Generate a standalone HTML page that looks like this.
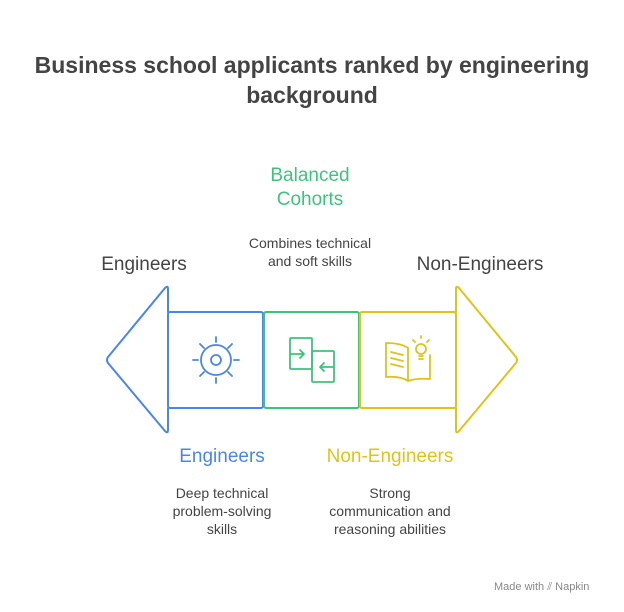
<!DOCTYPE html>
<html><head><style>
body{margin:0;width:624px;height:612px;background:#fff;font-family:"Liberation Sans",sans-serif;position:relative;overflow:hidden}
.t{position:absolute;text-align:center;white-space:nowrap}
</style></head><body>
<div class="t" style="left:0;width:624px;top:50px;font-size:23px;font-weight:bold;color:#444;line-height:30px">Business school applicants ranked by engineering<br>background</div>
<div class="t" style="left:210px;width:200px;top:164px;font-size:19px;color:#3cc47c;line-height:24px">Balanced<br>Cohorts</div>
<div class="t" style="left:210px;width:200px;top:234px;font-size:14px;color:#444;line-height:18px">Combines technical<br>and soft skills</div>
<div class="t" style="left:74px;width:140px;top:254px;font-size:19px;color:#444">Engineers</div>
<div class="t" style="left:400px;width:160px;top:254px;font-size:19px;color:#444">Non-Engineers</div>
<div class="t" style="left:152px;width:140px;top:446px;font-size:19px;color:#4a86e8">Engineers</div>
<div class="t" style="left:310px;width:160px;top:446px;font-size:19px;color:#e0c31a">Non-Engineers</div>
<div class="t" style="left:152px;width:140px;top:484px;font-size:14px;color:#444;line-height:18px">Deep technical<br>problem-solving<br>skills</div>
<div class="t" style="left:310px;width:160px;top:484px;font-size:14px;color:#444;line-height:18px">Strong<br>communication and<br>reasoning abilities</div>
<div class="t" style="left:494px;top:581px;font-size:11px;color:#888">Made with ⫽ Napkin</div>
<svg width="624" height="612" style="position:absolute;left:0;top:0" fill="none" stroke-width="2" stroke-linejoin="round" stroke-linecap="round">
<path d="M168,312 V289 Q168,285 165,288 L108,357 Q106,360 108,363 L165,431 Q168,434 168,430 V408" stroke="#4a86e8"/>
<rect x="168" y="312" width="95" height="96" rx="2" stroke="#4a86e8"/>
<rect x="264" y="312" width="95" height="96" rx="2" stroke="#3cc47c"/>
<rect x="360" y="312" width="96" height="96" rx="2" stroke="#e0c31a"/>
<path d="M456,312 V289 Q456,285 459,288 L516,357 Q518,360 516,363 L459,431 Q456,434 456,430 V408" stroke="#e0c31a"/>
<g stroke="#4a86e8" stroke-width="1.8">
<circle cx="216" cy="360" r="15"/><circle cx="216" cy="360" r="5"/>
<path d="M216,337v5M216,378v5M193,360h5M234,360h5M200,344l4,4M228,372l4,4M232,344l-4,4M204,372l-4,4"/>
</g>
<g stroke="#3cc47c" stroke-width="1.8">
<rect x="290" y="338" width="22" height="31" rx="1"/>
<rect x="312" y="351" width="22" height="31" rx="1"/>
<path d="M291,354h13M300,350l4,4l-4,4M333,367h-13M324,363l-4,4l4,4"/>
</g>
<g stroke="#e0c31a" stroke-width="1.8">
<path d="M386,343q15,0 22,5v33q-7,-5 -22,-4zM408,348v33q8,-3 22,-2v-24M391,352l12,3M391,358l12,3M391,364l12,3"/>
<circle cx="421" cy="349" r="5"/><path d="M419,356h4M419,359h4M413,340l2,2M429,340l-2,2M421,336v2"/>
</g>
</svg>
</body></html>
